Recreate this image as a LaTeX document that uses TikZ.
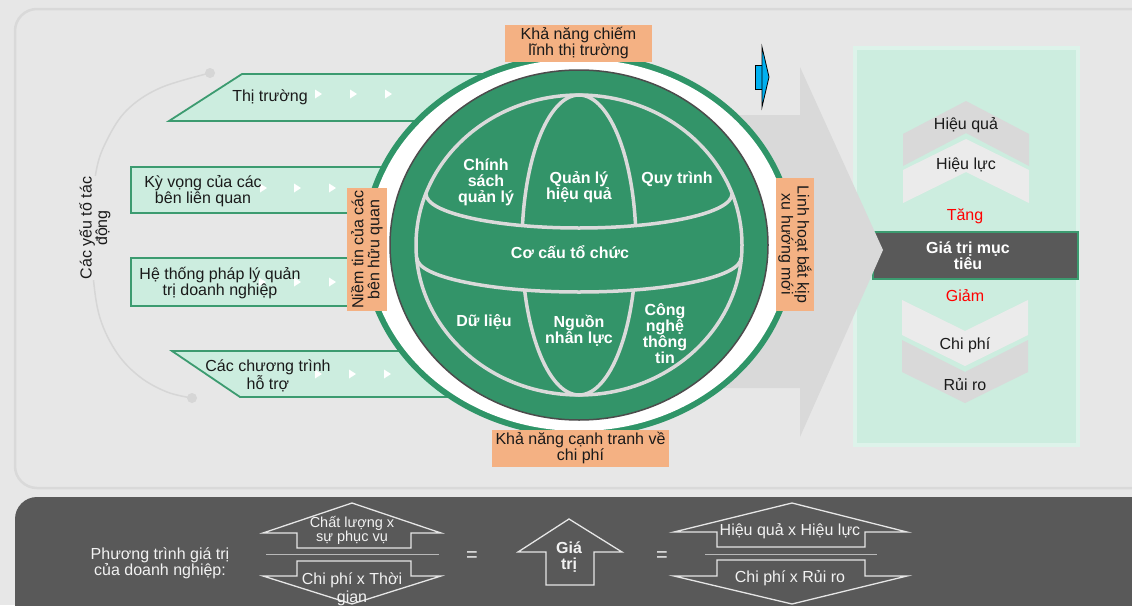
\documentclass[tikz,border=0pt]{standalone}
\usepackage{fontspec}
\setmainfont{Liberation Sans}
\definecolor{bg}{HTML}{E7E7E7}
\definecolor{panelline}{HTML}{D9D9D9}
\definecolor{darkpanel}{HTML}{595959}
\definecolor{paleg}{HTML}{CCEDDF}
\definecolor{paleborder}{HTML}{DDF3EA}
\definecolor{arrowg}{HTML}{3C9B70}
\definecolor{globeg}{HTML}{339469}
\definecolor{ringg}{HTML}{2F9568}
\definecolor{glinec}{HTML}{DADADA}
\definecolor{orangel}{HTML}{F4B183}
\definecolor{chevd}{HTML}{D9D9D9}
\definecolor{chevl}{HTML}{EBEBEB}
\definecolor{bigarrow}{HTML}{D9D9D9}
\definecolor{txt}{HTML}{1A1A1A}
\definecolor{eqline}{HTML}{E6E6E6}
\definecolor{blueA}{HTML}{00B0F0}
\definecolor{arcc}{HTML}{D6D6D6}
\begin{document}
\begin{tikzpicture}[x=1pt,y=-1pt,
  inarrow/.style={fill=paleg, draw=arrowg, line width=1.8pt, line join=miter},
  intext/.style={text=txt, align=center, inner sep=0pt, font=\fontsize{16}{15.5}\selectfont},
  globetext/.style={text=white, align=center, inner sep=0pt, font=\bfseries\fontsize{16}{16}\selectfont},
  olabel/.style={fill=orangel, text=txt, align=center, inner sep=0pt, font=\fontsize{16}{16}\selectfont},
  gline/.style={draw=glinec, line width=3.5pt},
  eqshape/.style={draw=eqline, line width=1.3pt, line join=miter},
  eqtext/.style={text=white!95!black, align=center, inner sep=0pt, font=\fontsize{16}{16}\selectfont},
  redtext/.style={text=red, inner sep=0pt, font=\fontsize{16}{16}\selectfont},
  dot/.style={circle, fill=arcc, minimum size=10pt, inner sep=0pt}
]
\useasboundingbox (0,0) rectangle (1132,605);
\clip (0,0) rectangle (1132,605);
\fill[bg] (0,0) rectangle (1132,605);
% panels
\filldraw[fill=bg, draw=panelline, line width=2.5pt, rounded corners=22pt] (15,9) rectangle (1160,488);
\fill[darkpanel, rounded corners=22pt] (15,497) rectangle (1160,640);

% left arc
\node[dot] (dtop) at (210,73) {};
\node[dot] (dbot) at (192,398) {};
\draw[arcc, line width=1.5pt] plot[smooth, tension=0.6] coordinates {(210,73) (160,88) (127,110) (107,140) (96,172) (91,228) (93,275) (100,318) (117,353) (140,377) (167,392) (192,398)};
\node[intext, rotate=90, fill=bg, inner sep=1pt] (yeuto) at (95,228) {Các yếu tố tác\\động};

% right panel
\filldraw[fill=paleg, draw=paleborder, line width=4pt] (855,48) rectangle (1078,445);
\fill[chevd] (903,134) -- (966,101) -- (1029,134) -- (1029,166) -- (966,133) -- (903,166) -- cycle;
\fill[chevl] (903,170) -- (966,139) -- (1029,170) -- (1029,203) -- (966,172) -- (903,203) -- cycle;
\fill[chevl] (902,300) -- (965,331) -- (1028,300) -- (1028,335) -- (965,366) -- (902,335) -- cycle;
\fill[chevd] (902,340) -- (965,372) -- (1028,340) -- (1028,372) -- (965,403) -- (902,372) -- cycle;
\node[intext] (hieuqua) at (966,125) {Hiệu quả};
\node[intext] (hieuluc) at (966,165) {Hiệu lực};
\node[redtext] (tang) at (965,216) {Tăng};
\node[redtext] (giam) at (965,296) {Giảm};
\node[intext] (chiphi) at (965,345) {Chi phí};
\node[intext] (ruiro) at (965,385) {Rủi ro};
\filldraw[fill=darkpanel, draw=arrowg, line width=1.2pt] (873,232) rectangle (1078,279);
\node[globetext] (gtmt) at (968,256) {Giá trị mục\\tiêu};

% big gray arrow
\fill[bigarrow] (600,115) -- (800,115) -- (800,67) -- (883,250) -- (800,437) -- (800,388) -- (600,388) -- cycle;

% blue arrow
\fill[blueA] (755,65) rectangle (763,89);
\draw[black, line width=0.6pt] (763,65) -- (755,65) -- (755,89) -- (763,89);
\filldraw[fill=blueA, draw=black, line width=0.8pt] (762,47) -- (769,77) -- (762,107) -- (762,89) -- (762,65) -- cycle;

% left arrows
\filldraw[inarrow] (169,121) -- (242,74) -- (500,74) -- (500,121) -- cycle;
\filldraw[inarrow] (131,167) rectangle (500,213);
\filldraw[inarrow] (131,258) rectangle (500,306);
\filldraw[inarrow] (172,351) -- (500,351) -- (500,397) -- (240,397) -- cycle;
\foreach \x/\y in {318/94, 353/94, 388/94, 263/188, 297/188, 332/188, 262/282, 297/282, 332/282, 318/374, 352/374, 387/374}
  \fill[white] (\x,\y) ++(-3,-4.5) -- ++(7,4.5) -- ++(-7,4.5) -- cycle;
\node[intext] (thitruong) at (270,97) {Thị trường};
\node[intext] (kyvong) at (203,191) {Kỳ vọng của các\\bên liên quan};
\node[intext] (hethong) at (220,283) {Hệ thống pháp lý quản\\trị doanh nghiệp};
\node[intext] (chuongtrinh) at (268,376) {Các chương trình\\hỗ trợ};

% globe
\fill[ringg] (579,245) ellipse [x radius=217, y radius=192];
\fill[white] (579,245) ellipse [x radius=211, y radius=186];
\filldraw[fill=globeg, draw=black!70, line width=1.5pt] (579,245) ellipse [x radius=189, y radius=175];
\draw[gline] (579,245) ellipse [x radius=163, y radius=150];
\begin{scope}
\clip (400,40) -- (760,40) -- (760,194) -- (732,194) .. controls (732,212.8) and (663.5,228) .. (579,228) .. controls (494.5,228) and (426,212.8) .. (426,194) -- (400,194) -- cycle;
\draw[gline] (579,245) ellipse [x radius=57, y radius=150];
\end{scope}
\begin{scope}
\clip (400,258) -- (417,258) .. controls (417,276.8) and (489.5,292) .. (579,292) .. controls (668.5,292) and (741,276.8) .. (741,258) -- (760,258) -- (760,430) -- (400,430) -- cycle;
\draw[gline] (579,245) ellipse [x radius=57, y radius=150];
\end{scope}
\draw[gline] (426,194) .. controls (426,212.8) and (494.5,228) .. (579,228) .. controls (663.5,228) and (732,212.8) .. (732,194);
\draw[gline] (417,258) .. controls (417,276.8) and (489.5,292) .. (579,292) .. controls (668.5,292) and (741,276.8) .. (741,258);
\node[globetext] (chinhsach) at (486,182) {Chính\\sách\\quản lý};
\node[globetext] (quanly) at (579,187) {Quản lý\\hiệu quả};
\node[globetext] (quytrinh) at (677,179) {Quy trình};
\node[globetext] (cocau) at (570,252) {Cơ cấu tổ chức};
\node[globetext] (dulieu) at (484,322) {Dữ liệu};
\node[globetext] (nguon) at (579,331) {Nguồn\\nhân lực};
\node[globetext] (cntt) at (665,334) {Công\\nghệ\\thông\\tin};

% orange labels
\node[olabel, minimum width=147pt, minimum height=37pt] (topL) at (578.5,43.5) {Khả năng chiếm\\lĩnh thị trường};
\node[olabel, minimum width=177pt, minimum height=37pt] (botL) at (580.5,448.5) {Khả năng cạnh tranh về\\chi phí};
\node[olabel, rotate=90, minimum width=123pt, minimum height=40pt] (leftL) at (367,249.5) {Niềm tin của các\\bên hữu quan};
\node[olabel, rotate=-90, minimum width=133pt, minimum height=38pt] (rightL) at (795,244.5) {Linh hoạt bắt kịp\\xu hướng mới};

% bottom equation
\node[eqtext] (pt) at (160,563) {Phương trình giá trị\\của doanh nghiệp:};
\draw[eqshape] (297,548) -- (297,533) -- (263,533) -- (352,503) -- (441,533) -- (411,533) -- (411,548) -- cycle;
\draw[eqline!80!black, line width=1pt] (266,554) -- (439,554);
\draw[eqshape] (297,561) -- (411,561) -- (411,576) -- (441,576) -- (352,604) -- (263,576) -- (297,576) -- cycle;
\node[eqtext, font=\fontsize{14.5}{14}\selectfont] (cl) at (352,530) {Chất lượng x\\sự phục vụ};
\node[eqtext, font=\fontsize{16}{18}\selectfont] (cp) at (352,589) {Chi phí x Thời\\gian};
\node[eqtext, font=\fontsize{20}{20}\selectfont] (eq1) at (472,557) {=};
\draw[eqshape] (546,585) -- (546,552) -- (518,552) -- (569,519) -- (622,552) -- (594,552) -- (594,585) -- cycle;
\node[eqtext, font=\bfseries\fontsize{16}{16}\selectfont] (gt) at (569,557) {Giá\\trị};
\node[eqtext, font=\fontsize{20}{20}\selectfont] (eq2) at (662,557) {=};
\draw[eqshape] (717,547) -- (717,532) -- (674,532) -- (792,503) -- (907,532) -- (865,532) -- (865,547) -- cycle;
\draw[eqline!80!black, line width=1pt] (705,554) -- (877,554);
\draw[eqshape] (717,560) -- (865,560) -- (865,576) -- (907,576) -- (792,604) -- (674,576) -- (717,576) -- cycle;
\node[eqtext] (hqhl) at (790,531) {Hiệu quả x Hiệu lực};
\node[eqtext] (cprr) at (790,578) {Chi phí x Rủi ro};
\end{tikzpicture}
\end{document}
